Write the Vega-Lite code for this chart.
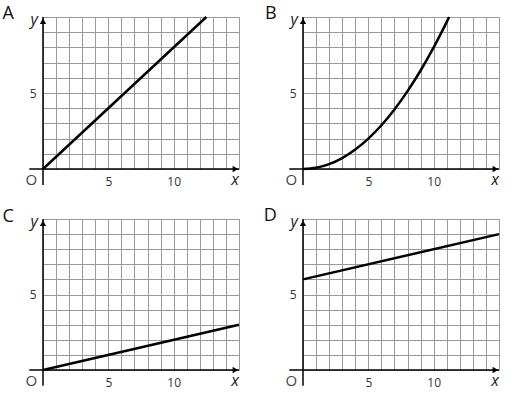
{
  "$schema": "https://vega.github.io/schema/vega-lite/v6.json",
  "padding": {"left": 2, "top": 4, "right": 5, "bottom": 5},
  "autosize": {"type": "pad"},
  "config": {
    "view": {"stroke": null},
    "axis": {"domain": false, "ticks": false, "grid": true, "gridColor": "#9a9a9a", "gridWidth": 1, "labelFont": "Open Sans", "labelFontSize": 12, "labelColor": "#333333", "title": null},
    "axisX": {"labelPadding": 7},
    "axisY": {"labelPadding": 7}
  },
  "datasets": {
    "xAxisLine": [{"x": -1.05, "x2": 15, "y": 0}],
    "yAxisLine": [{"x": 0, "y": -1.05, "y2": 10}],
    "arrowUp": [{"x": 0, "y": 9.72}],
    "arrowRight": [{"x": 14.72, "y": 0}],
    "varLabels": [{"x": -0.67, "y": 9.45, "t": "y"}, {"x": 14.7, "y": -1.05, "t": "x"}],
    "origin": [{"x": -0.9, "y": -1.05, "t": "O"}],
    "lineA": [{"x": 0, "y": 0}, {"x": 12.5, "y": 10}],
    "lineB": [{"x": 0, "y": 0}, {"x": 1, "y": 0.08}, {"x": 2, "y": 0.32}, {"x": 3, "y": 0.72}, {"x": 4, "y": 1.28}, {"x": 5, "y": 2}, {"x": 6, "y": 2.88}, {"x": 7, "y": 3.92}, {"x": 8, "y": 5.12}, {"x": 9, "y": 6.48}, {"x": 10, "y": 8}, {"x": 10.5, "y": 8.82}, {"x": 11, "y": 9.68}, {"x": 11.18, "y": 10}],
    "lineC": [{"x": 0, "y": 0}, {"x": 15, "y": 3}],
    "lineD": [{"x": 0, "y": 6}, {"x": 15, "y": 9}],
    "letterA": [{"x": -3.1, "y": 9.9, "t": "A"}],
    "letterB": [{"x": -2.9, "y": 9.9, "t": "B"}],
    "letterC": [{"x": -3.1, "y": 9.77, "t": "C"}],
    "letterD": [{"x": -3.0, "y": 9.9, "t": "D"}]
  },
  "columns": 2,
  "spacing": {"row": 50, "column": 64},
  "bounds": "flush",
  "concat": [
    {
      "width": 196, "height": 152,
      "encoding": {
        "x": {"field": "x", "type": "quantitative", "scale": {"domain": [0, 15], "nice": false}, "axis": {"values": [0,1,2,3,4,5,6,7,8,9,10,11,12,13,14,15], "labelExpr": "datum.value == 5 || datum.value == 10 ? datum.label : ''"}},
        "y": {"field": "y", "type": "quantitative", "scale": {"domain": [0, 10], "nice": false}, "axis": {"values": [0,1,2,3,4,5,6,7,8,9,10], "labelExpr": "datum.value == 5 ? datum.label : ''"}}
      },
      "layer": [
        {"data": {"name": "lineA"}, "mark": {"type": "line", "color": "black", "strokeWidth": 2.5}},
        {"data": {"name": "xAxisLine"}, "mark": {"type": "rule", "color": "black", "strokeWidth": 1.5}, "encoding": {"x2": {"field": "x2"}}},
        {"data": {"name": "yAxisLine"}, "mark": {"type": "rule", "color": "black", "strokeWidth": 1.5}, "encoding": {"y2": {"field": "y2"}}},
        {"data": {"name": "arrowUp"}, "mark": {"type": "point", "shape": "triangle-up", "filled": true, "color": "black", "size": 40, "opacity": 1}},
        {"data": {"name": "arrowRight"}, "mark": {"type": "point", "shape": "triangle-right", "filled": true, "color": "black", "size": 40, "opacity": 1}},
        {"data": {"name": "varLabels"}, "mark": {"type": "text", "font": "Open Sans", "fontStyle": "italic", "fontSize": 16, "color": "#222222", "align": "center", "baseline": "alphabetic"}, "encoding": {"text": {"field": "t"}}},
        {"data": {"name": "origin"}, "mark": {"type": "text", "font": "Open Sans", "fontSize": 15, "color": "#444444", "align": "center", "baseline": "alphabetic"}, "encoding": {"text": {"field": "t"}}},
        {"data": {"name": "letterA"}, "mark": {"type": "text", "font": "Open Sans", "fontSize": 18, "color": "#111111", "align": "left", "baseline": "alphabetic"}, "encoding": {"text": {"field": "t"}}}
      ]
    },
    {
      "width": 196, "height": 152,
      "encoding": {
        "x": {"field": "x", "type": "quantitative", "scale": {"domain": [0, 15], "nice": false}, "axis": {"values": [0,1,2,3,4,5,6,7,8,9,10,11,12,13,14,15], "labelExpr": "datum.value == 5 || datum.value == 10 ? datum.label : ''"}},
        "y": {"field": "y", "type": "quantitative", "scale": {"domain": [0, 10], "nice": false}, "axis": {"values": [0,1,2,3,4,5,6,7,8,9,10], "labelExpr": "datum.value == 5 ? datum.label : ''"}}
      },
      "layer": [
        {"data": {"name": "lineB"}, "mark": {"type": "line", "color": "black", "strokeWidth": 2.5, "interpolate": "monotone"}},
        {"data": {"name": "xAxisLine"}, "mark": {"type": "rule", "color": "black", "strokeWidth": 1.5}, "encoding": {"x2": {"field": "x2"}}},
        {"data": {"name": "yAxisLine"}, "mark": {"type": "rule", "color": "black", "strokeWidth": 1.5}, "encoding": {"y2": {"field": "y2"}}},
        {"data": {"name": "arrowUp"}, "mark": {"type": "point", "shape": "triangle-up", "filled": true, "color": "black", "size": 40, "opacity": 1}},
        {"data": {"name": "arrowRight"}, "mark": {"type": "point", "shape": "triangle-right", "filled": true, "color": "black", "size": 40, "opacity": 1}},
        {"data": {"name": "varLabels"}, "mark": {"type": "text", "font": "Open Sans", "fontStyle": "italic", "fontSize": 16, "color": "#222222", "align": "center", "baseline": "alphabetic"}, "encoding": {"text": {"field": "t"}}},
        {"data": {"name": "origin"}, "mark": {"type": "text", "font": "Open Sans", "fontSize": 15, "color": "#444444", "align": "center", "baseline": "alphabetic"}, "encoding": {"text": {"field": "t"}}},
        {"data": {"name": "letterB"}, "mark": {"type": "text", "font": "Open Sans", "fontSize": 18, "color": "#111111", "align": "left", "baseline": "alphabetic"}, "encoding": {"text": {"field": "t"}}}
      ]
    },
    {
      "width": 196, "height": 151,
      "encoding": {
        "x": {"field": "x", "type": "quantitative", "scale": {"domain": [0, 15], "nice": false}, "axis": {"values": [0,1,2,3,4,5,6,7,8,9,10,11,12,13,14,15], "labelExpr": "datum.value == 5 || datum.value == 10 ? datum.label : ''"}},
        "y": {"field": "y", "type": "quantitative", "scale": {"domain": [0, 10], "nice": false}, "axis": {"values": [0,1,2,3,4,5,6,7,8,9,10], "labelExpr": "datum.value == 5 ? datum.label : ''"}}
      },
      "layer": [
        {"data": {"name": "lineC"}, "mark": {"type": "line", "color": "black", "strokeWidth": 2.5}},
        {"data": {"name": "xAxisLine"}, "mark": {"type": "rule", "color": "black", "strokeWidth": 1.5}, "encoding": {"x2": {"field": "x2"}}},
        {"data": {"name": "yAxisLine"}, "mark": {"type": "rule", "color": "black", "strokeWidth": 1.5}, "encoding": {"y2": {"field": "y2"}}},
        {"data": {"name": "arrowUp"}, "mark": {"type": "point", "shape": "triangle-up", "filled": true, "color": "black", "size": 40, "opacity": 1}},
        {"data": {"name": "arrowRight"}, "mark": {"type": "point", "shape": "triangle-right", "filled": true, "color": "black", "size": 40, "opacity": 1}},
        {"data": {"name": "varLabels"}, "mark": {"type": "text", "font": "Open Sans", "fontStyle": "italic", "fontSize": 16, "color": "#222222", "align": "center", "baseline": "alphabetic"}, "encoding": {"text": {"field": "t"}}},
        {"data": {"name": "origin"}, "mark": {"type": "text", "font": "Open Sans", "fontSize": 15, "color": "#444444", "align": "center", "baseline": "alphabetic"}, "encoding": {"text": {"field": "t"}}},
        {"data": {"name": "letterC"}, "mark": {"type": "text", "font": "Open Sans", "fontSize": 18, "color": "#111111", "align": "left", "baseline": "alphabetic"}, "encoding": {"text": {"field": "t"}}}
      ]
    },
    {
      "width": 196, "height": 151,
      "encoding": {
        "x": {"field": "x", "type": "quantitative", "scale": {"domain": [0, 15], "nice": false}, "axis": {"values": [0,1,2,3,4,5,6,7,8,9,10,11,12,13,14,15], "labelExpr": "datum.value == 5 || datum.value == 10 ? datum.label : ''"}},
        "y": {"field": "y", "type": "quantitative", "scale": {"domain": [0, 10], "nice": false}, "axis": {"values": [0,1,2,3,4,5,6,7,8,9,10], "labelExpr": "datum.value == 5 ? datum.label : ''"}}
      },
      "layer": [
        {"data": {"name": "lineD"}, "mark": {"type": "line", "color": "black", "strokeWidth": 2.5}},
        {"data": {"name": "xAxisLine"}, "mark": {"type": "rule", "color": "black", "strokeWidth": 1.5}, "encoding": {"x2": {"field": "x2"}}},
        {"data": {"name": "yAxisLine"}, "mark": {"type": "rule", "color": "black", "strokeWidth": 1.5}, "encoding": {"y2": {"field": "y2"}}},
        {"data": {"name": "arrowUp"}, "mark": {"type": "point", "shape": "triangle-up", "filled": true, "color": "black", "size": 40, "opacity": 1}},
        {"data": {"name": "arrowRight"}, "mark": {"type": "point", "shape": "triangle-right", "filled": true, "color": "black", "size": 40, "opacity": 1}},
        {"data": {"name": "varLabels"}, "mark": {"type": "text", "font": "Open Sans", "fontStyle": "italic", "fontSize": 16, "color": "#222222", "align": "center", "baseline": "alphabetic"}, "encoding": {"text": {"field": "t"}}},
        {"data": {"name": "origin"}, "mark": {"type": "text", "font": "Open Sans", "fontSize": 15, "color": "#444444", "align": "center", "baseline": "alphabetic"}, "encoding": {"text": {"field": "t"}}},
        {"data": {"name": "letterD"}, "mark": {"type": "text", "font": "Open Sans", "fontSize": 18, "color": "#111111", "align": "left", "baseline": "alphabetic"}, "encoding": {"text": {"field": "t"}}}
      ]
    }
  ]
}
